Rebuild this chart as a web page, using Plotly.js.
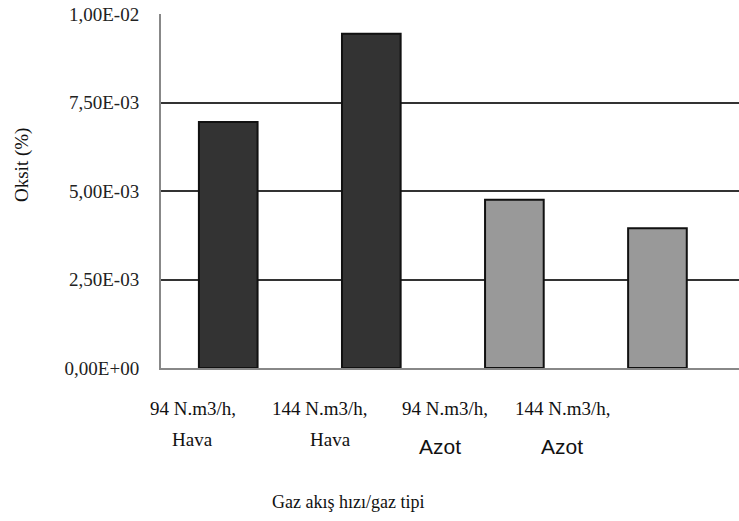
<!DOCTYPE html>
<html>
<head>
<meta charset="utf-8">
<script src="https://cdn.plot.ly/plotly-3.0.1.min.js"></script>
<style>html,body{margin:0;padding:0;background:#fff;}#chart{width:739px;height:521px;}</style>
</head>
<body>
<div id="chart"></div>
<script>
// ---- data ----
const categories = ['94 N.m3/h, Hava', '144 N.m3/h, Hava', '94 N.m3/h, Azot', '144 N.m3/h, Azot'];
const oksitValues = [0.00695, 0.00944, 0.00475, 0.00395];
const labelLine1 = ['94 N.m3/h,', '144 N.m3/h,', '94 N.m3/h,', '144 N.m3/h,'];
const labelLine2 = ['Hava', 'Hava', 'Azot', 'Azot'];
const yTickVals = [0, 0.0025, 0.005, 0.0075, 0.01];
const yTickText = ['0,00E+00', '2,50E-03', '5,00E-03', '7,50E-03', '1,00E-02'];

// ---- style / layout ----
const barColors = ['#333333', '#333333', '#999999', '#999999'];
const serif = '"Liberation Serif", "Times New Roman", serif';
const sans = '"Liberation Sans", Arial, sans-serif';
const plotLeft = 161, plotWidth = 578, plotTop = 14, plotHeight = 354;
const line1Px = [193, 320, 445, 563];
const line2Px = [192, 330, 440, 562];
const line2Font = [
  {family: serif, size: 19, color: '#111'},
  {family: serif, size: 19, color: '#111'},
  {family: sans, size: 21, color: '#111'},
  {family: sans, size: 21, color: '#111'}
];
const line2Y = [440, 440, 446, 446];
const px2x = p => (p - plotLeft) / plotWidth;
const py2y = p => (plotTop + plotHeight - p) / plotHeight;

const annotations = [];
labelLine1.forEach((t, i) => {
  annotations.push({text: t, xref: 'paper', yref: 'paper', x: px2x(line1Px[i]), y: py2y(408),
    xanchor: 'center', yanchor: 'middle', showarrow: false,
    font: {family: serif, size: 19, color: '#111'}});
  annotations.push({text: labelLine2[i], xref: 'paper', yref: 'paper', x: px2x(line2Px[i]), y: py2y(line2Y[i]),
    xanchor: 'center', yanchor: 'middle', showarrow: false, font: line2Font[i]});
});
annotations.push({text: 'Gaz akış hızı/gaz tipi', xref: 'paper', yref: 'paper', x: px2x(348), y: py2y(502),
  xanchor: 'center', yanchor: 'middle', showarrow: false, font: {family: serif, size: 18, color: '#111'}});
annotations.push({text: 'Oksit (%)', xref: 'paper', yref: 'paper', x: px2x(22), y: py2y(165),
  xanchor: 'center', yanchor: 'middle', textangle: -90, showarrow: false,
  font: {family: serif, size: 19, color: '#111'}});

const trace = {
  type: 'bar',
  x: categories,
  y: oksitValues,
  width: 0.41,
  marker: {color: barColors, line: {color: '#111', width: 2}},
  hoverinfo: 'skip'
};

const layout = {
  width: 739, height: 521,
  margin: {l: plotLeft, r: 0, t: plotTop, b: 521 - plotTop - plotHeight, pad: 0},
  paper_bgcolor: '#fff', plot_bgcolor: '#fff',
  showlegend: false,
  xaxis: {
    type: 'category', range: [-0.47, 3.57], showticklabels: false, ticks: '',
    showgrid: false, zeroline: false, showline: true, linecolor: '#888', linewidth: 2, fixedrange: true
  },
  yaxis: {
    range: [0, 0.01], tickvals: yTickVals, ticktext: yTickText, ticks: '',
    ticklabelstandoff: 16,
    tickfont: {family: serif, size: 19, color: '#222'},
    showgrid: true, gridcolor: '#333', gridwidth: 2, zeroline: false,
    showline: true, linecolor: '#888', linewidth: 2, fixedrange: true
  },
  annotations: annotations
};

Plotly.newPlot('chart', [trace], layout, {displayModeBar: false, staticPlot: true});
</script>
</body>
</html>
